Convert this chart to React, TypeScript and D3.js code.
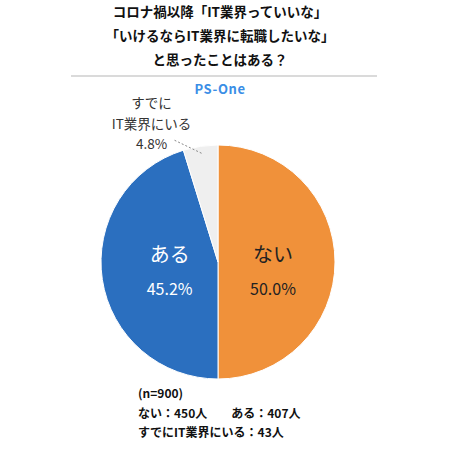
import * as React from 'react';
import * as d3 from 'd3';

// slice data, in drawing order (clockwise from 12 o'clock)
const categories: string[] = ['ない', 'ある', 'すでにIT業界にいる'];
const counts: number[] = [450, 407, 43];
const percentLabels: string[] = ['50.0%', '45.2%', '4.8%'];
const sliceColors: string[] = ['#f0913a', '#2b6fbf', '#efefef'];

const titleLines: string[] = ['コロナ禍以降「IT業界っていいな」', '「いけるならIT業界に転職したいな」', 'と思ったことはある？'];
const footerLines: string[] = ['(n=900)', 'ない：450人　　ある：407人', 'すでにIT業界にいる：43人'];

const FONT = '"Noto Sans CJK JP", "Noto Sans", sans-serif';

const App = () => {
	const ref = React.useRef<SVGSVGElement>(null);

	React.useEffect(() => {
		const svg = d3.select(ref.current);
		svg.selectAll('*').remove();

		const cx = 218;
		const cy = 262;
		const radius = 117;

		// title block
		svg.append('g')
			.selectAll('text')
			.data(titleLines)
			.enter()
			.append('text')
			.attr('x', 220)
			.attr('y', (_d, i) => 17 + i * 24)
			.attr('text-anchor', 'middle')
			.attr('font-family', FONT)
			.attr('font-weight', 'bold')
			.attr('font-size', 13.5)
			.attr('fill', '#111')
			.text((d) => d);

		svg.append('line')
			.attr('x1', 71)
			.attr('x2', 377)
			.attr('y1', 76)
			.attr('y2', 76)
			.attr('stroke', '#b5b5b5')
			.attr('stroke-width', 1);

		svg.append('text')
			.attr('x', 220)
			.attr('y', 94)
			.attr('text-anchor', 'middle')
			.attr('font-family', FONT)
			.attr('font-weight', 'bold')
			.attr('font-size', 13)
			.attr('letter-spacing', 0.6)
			.attr('fill', '#3a8ee6')
			.text('PS-One');

		// pie
		const pie = d3.pie<number>().sort(null).value((d) => d);
		const arcs = pie(counts);
		const arc = d3.arc<d3.PieArcDatum<number>>().innerRadius(0).outerRadius(radius);
		const labelArc = d3.arc<d3.PieArcDatum<number>>().innerRadius(radius * 0.47).outerRadius(radius * 0.47);

		const g = svg.append('g').attr('transform', `translate(${cx},${cy})`);
		g.selectAll('path')
			.data(arcs)
			.enter()
			.append('path')
			.attr('d', arc)
			.attr('fill', (_d, i) => sliceColors[i])
			.attr('stroke', '#fff')
			.attr('stroke-width', 1);

		// inner labels for the two big slices (x from the centroid, kept on one row)
		const inner = arcs.slice(0, 2);
		inner.forEach((d, i) => {
			const x = labelArc.centroid(d)[0] + (i === 1 ? 6 : 0);
			const color = i === 1 ? '#fff' : '#222';
			g.append('text')
				.attr('x', x)
				.attr('y', 0)
				.attr('text-anchor', 'middle')
				.attr('font-family', FONT)
				.attr('font-size', 20)
				.attr('fill', color)
				.text(categories[i]);
			g.append('text')
				.attr('x', x)
				.attr('y', 33)
				.attr('text-anchor', 'middle')
				.attr('font-family', FONT)
				.attr('font-size', 16)
				.attr('fill', color)
				.text(percentLabels[i]);
		});

		// outside label for the small slice with dashed leader line
		const small = arcs[2];
		const mid = (small.startAngle + small.endAngle) / 2;
		const sx = radius * 0.94 * Math.sin(mid);
		const sy = -radius * 0.94 * Math.cos(mid);
		const ex = sx - 27;
		const ey = sy - 13;
		g.append('line')
			.attr('x1', sx)
			.attr('y1', sy)
			.attr('x2', ex)
			.attr('y2', ey)
			.attr('stroke', '#888')
			.attr('stroke-width', 1)
			.attr('stroke-dasharray', '2,2');

		const smallLines = ['すでに', 'IT業界にいる', percentLabels[2]];
		g.append('g')
			.selectAll('text')
			.data(smallLines)
			.enter()
			.append('text')
			.attr('x', ex - 23)
			.attr('y', (_d, i) => ey - 32 + i * 20.5)
			.attr('text-anchor', 'middle')
			.attr('font-family', FONT)
			.attr('font-size', 13.5)
			.attr('fill', '#333')
			.text((d) => d);

		// footer
		svg.append('g')
			.selectAll('text')
			.data(footerLines)
			.enter()
			.append('text')
			.attr('x', 138)
			.attr('y', (_d, i) => 398 + i * 19.5)
			.attr('font-family', FONT)
			.attr('font-weight', 'bold')
			.attr('font-size', 12)
			.attr('fill', '#111')
			.attr('xml:space', 'preserve')
			.text((d) => d);
	}, []);

	return <svg ref={ref} width={450} height={450} style={{ position: 'absolute', left: 0, top: 0, background: '#fff' }} />;
};

export default App;
